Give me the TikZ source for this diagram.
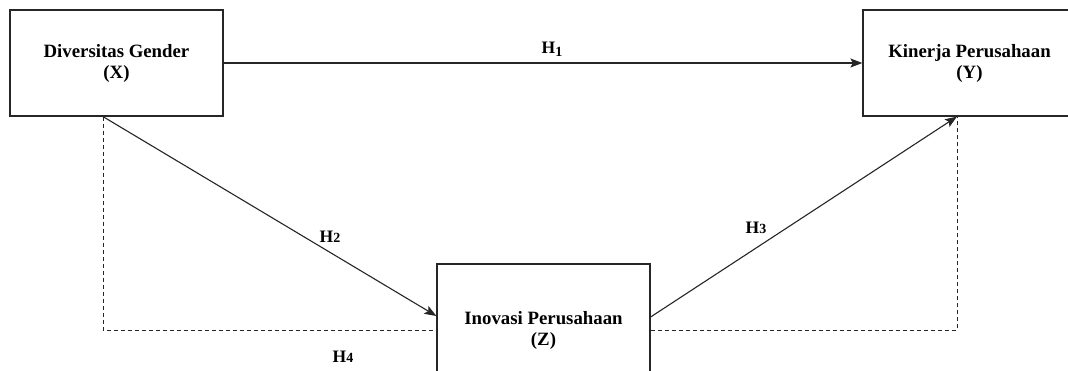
\documentclass[tikz,border=0pt]{standalone}
\usepackage{fontspec}
\setmainfont{Liberation Serif}
\usetikzlibrary{arrows.meta}

\tikzset{
  varbox/.style={draw=black!85, line width=1.2pt, minimum width=213pt,
    minimum height=106pt, align=center, inner sep=0pt,
    font=\fontsize{18.8}{21}\selectfont\bfseries},
  hyplabel/.style={font=\fontsize{17.5}{19}\selectfont\bfseries, inner sep=1pt},
  causal/.style={draw=black!85, line width=1.1pt,
    -{Stealth[length=12pt, width=9pt, inset=2.5pt]}},
  indirect/.style={draw=black!85, line width=0.9pt, dash pattern=on 4pt off 3pt}
}
\newcommand{\smalldigit}[1]{{\fontsize{14}{14}\selectfont #1}}

\begin{document}
\begin{tikzpicture}[x=1pt, y=-1pt]
  \useasboundingbox (0,0) rectangle (1068,370);
  \fill[white] (0,0) rectangle (1068,370);
  \clip (0,0) rectangle (1068,370);

  % variables
  \node[varbox] (X) at (116.5,63) {Diversitas Gender\\(X)};
  \node[varbox] (Y) at (969.5,63) {Kinerja Perusahaan\\(Y)};
  \node[varbox, minimum height=132pt] (Z) at (543.5,330) {Inovasi Perusahaan\\(Z)};

  % anchor points on the box edges
  \coordinate (Xs) at ([xshift=-13.5pt]X.south);
  \coordinate (Ys) at ([xshift=-12.5pt]Y.south);
  \coordinate (Zw) at ([yshift=14pt]Z.west);
  \coordinate (Ze) at ([yshift=13pt]Z.east);

  % indirect (mediated) path
  \draw[indirect] (Xs) |- (Z.west);
  \draw[indirect] (Z.east) -| (Ys);

  % direct paths
  \draw[causal] (X.east) -- (Y.west);
  \draw[causal] (Xs) -- (Zw);
  \draw[causal] (Ze) -- (Ys);

  % hypothesis labels
  \node[hyplabel] (h1) at (552,49) {H\raisebox{-3pt}{\smalldigit{1}}};
  \node[hyplabel] (h2) at (330,237) {H\smalldigit{2}};
  \node[hyplabel] (h3) at (756,228) {H\smalldigit{3}};
  \node[hyplabel] (h4) at (343,357) {H\smalldigit{4}};
\end{tikzpicture}
\end{document}
